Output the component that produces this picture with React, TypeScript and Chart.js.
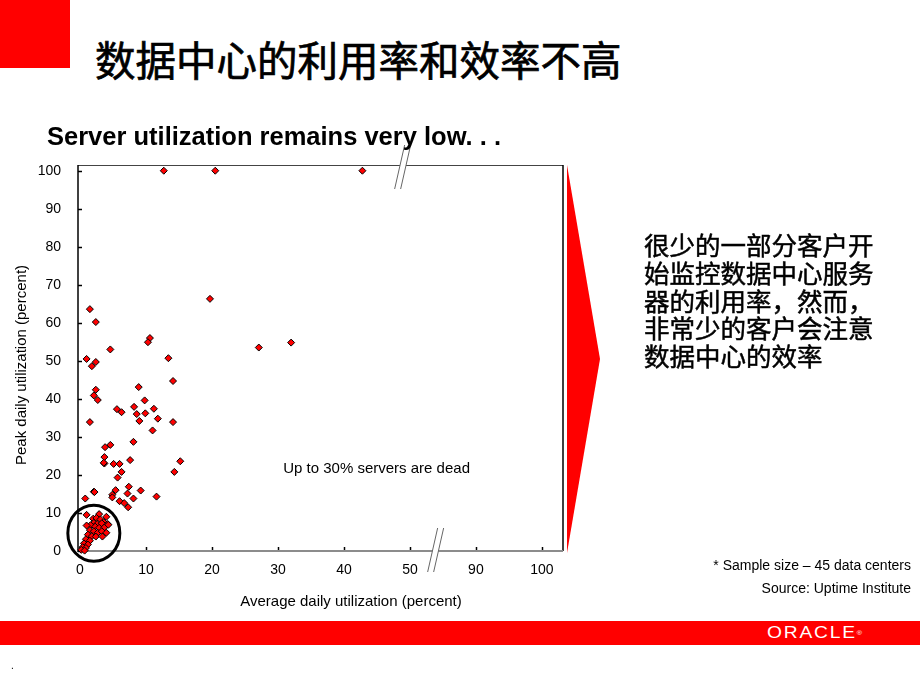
import React, { useEffect, useRef } from 'react';
import { Chart, registerables } from 'chart.js';

Chart.register(...registerables);

// Average daily utilization (percent) — x
const avgUtil = [
  12.7, 20.5, 42.8, 19.7, 1.5, 2.4, 10.6, 10.3, 4.6, 27.1, 32.0, 1.0, 2.4, 1.8, 13.4,
  14.1, 8.9, 2.4, 2.1, 2.7, 9.8, 5.6, 6.3, 8.2, 8.6, 9.9, 11.2, 11.8, 9.0, 14.1,
  1.5, 11.0, 8.1, 4.6, 3.8, 3.7, 3.7, 3.6, 5.1, 6.0, 7.6, 15.2, 14.3, 6.3, 5.7,
  2.1, 2.2, 5.4, 4.9, 4.9, 7.4, 7.2, 9.2, 11.6, 6.0, 6.7, 8.1, 7.3, 0.8, 1.0, 2.9,
  4.0, 2.0, 2.5, 3.1, 3.6, 4.2, 2.1, 2.6, 3.3, 1.6, 2.3, 2.9, 3.7, 1.5, 2.1, 2.7,
  3.3, 1.2, 1.8, 2.4, 0.9, 1.5, 0.6, 1.2, 0.4, 0.9, 0.2, 0.7, 4.3, 4.0, 3.4, 1.0,
];
// Peak daily utilization (percent) — y
const peakUtil = [
  100, 100, 100, 66.3, 63.6, 60.2, 56.0, 54.9, 53.0, 53.5, 54.8, 50.5, 49.7, 48.6, 50.7,
  44.7, 43.1, 42.4, 40.9, 39.7, 39.6, 37.3, 36.5, 37.9, 36.0, 36.2, 37.4, 34.8, 34.2, 33.9,
  33.9, 31.7, 28.7, 27.9, 27.3, 24.7, 23.0, 23.2, 22.9, 22.9, 23.9, 23.6, 20.8, 20.8, 19.3,
  15.6, 15.5, 16.0, 14.8, 14.1, 16.9, 15.1, 15.9, 14.3, 13.1, 12.6, 13.8, 11.5, 13.8, 9.5, 9.7,
  9.0, 8.5, 8.7, 8.3, 7.6, 7.1, 7.4, 7.1, 7.3, 6.8, 6.4, 6.1, 6.2, 5.5, 5.2, 4.8,
  5.2, 4.3, 3.9, 3.8, 3.1, 2.7, 2.0, 1.7, 1.0, 0.8, 0.3, 0.1, 6.9, 4.8, 3.8, 6.7,
];

// Broken x axis: positions 60 and 70 stand for 90 and 100
const xTickValues = [0, 10, 20, 30, 40, 50, 60, 70];
const xTickLabels = ['0', '10', '20', '30', '40', '50', '90', '100'];
const yTickValues = [0, 10, 20, 30, 40, 50, 60, 70, 80, 90, 100];
const yTickLabels = ['0', '10', '20', '30', '40', '50', '60', '70', '80', '90', '100'];

const titleText = '数据中心的利用率和效率不高';
const subtitleText = 'Server utilization remains very low. . .';
const noteText = 'Up to 30% servers are dead';
const sideLines = ['很少的一部分客户开', '始监控数据中心服务', '器的利用率，然而，', '非常少的客户会注意', '数据中心的效率'];
const xTitle = 'Average daily utilization (percent)';
const yTitle = 'Peak daily utilization (percent)';
const footnote1 = '* Sample size – 45 data centers';
const footnote2 = 'Source: Uptime Institute';

const SANS = '"Liberation Sans", Arial, sans-serif';
const CJK = '"Noto Sans CJK SC", "Noto Sans", sans-serif';
const RED = '#ff0000';

export default function App() {
  const ref = useRef<HTMLCanvasElement>(null);

  useEffect(() => {
    const canvas = ref.current;
    if (!canvas) return;

    const axesPlugin = {
      id: 'axesDeco',
      beforeDatasetsDraw(chart: any) {
        const { ctx, chartArea: a, scales } = chart;
        const xs = scales.x;
        const ys = scales.y;
        ctx.save();
        // top border
        ctx.strokeStyle = '#444';
        ctx.lineWidth = 1;
        ctx.beginPath();
        ctx.moveTo(a.left, a.top + 0.5);
        ctx.lineTo(a.right, a.top + 0.5);
        ctx.stroke();
        // right border
        ctx.strokeStyle = '#000';
        ctx.lineWidth = 1.5;
        ctx.beginPath();
        ctx.moveTo(a.right, a.top);
        ctx.lineTo(a.right, a.bottom);
        ctx.stroke();
        // bottom axis (gray)
        ctx.strokeStyle = '#8c8c8c';
        ctx.lineWidth = 2;
        ctx.beginPath();
        ctx.moveTo(a.left, a.bottom);
        ctx.lineTo(a.right, a.bottom);
        ctx.stroke();
        // left axis
        ctx.strokeStyle = '#000';
        ctx.lineWidth = 1.5;
        ctx.beginPath();
        ctx.moveTo(a.left, a.top);
        ctx.lineTo(a.left, a.bottom + 1);
        ctx.stroke();
        // inner tick marks
        ctx.lineWidth = 1.5;
        ctx.strokeStyle = '#000';
        yTickValues.forEach((v) => {
          const py = Math.round(ys.getPixelForValue(v)) + 0.5;
          ctx.beginPath();
          ctx.moveTo(a.left, py);
          ctx.lineTo(a.left + 4, py);
          ctx.stroke();
        });
        xTickValues.forEach((v) => {
          const px = Math.round(xs.getPixelForValue(v)) + 0.5;
          ctx.beginPath();
          ctx.moveTo(px, a.bottom - 1);
          ctx.lineTo(px, a.bottom - 4);
          ctx.stroke();
        });
        ctx.restore();
      },
      afterDraw(chart: any) {
        const { ctx, chartArea: a, scales } = chart;
        const xs = scales.x;
        const ys = scales.y;
        ctx.save();

        // axis break marks
        const drawBreak = (cx: number, cy: number) => {
          ctx.fillStyle = '#fff';
          ctx.beginPath();
          ctx.moveTo(cx - 8, cy + 22);
          ctx.lineTo(cx + 2, cy - 22);
          ctx.lineTo(cx + 8, cy - 22);
          ctx.lineTo(cx - 2, cy + 22);
          ctx.closePath();
          ctx.fill();
          ctx.strokeStyle = '#666';
          ctx.lineWidth = 1;
          ctx.beginPath();
          ctx.moveTo(cx - 8, cy + 22);
          ctx.lineTo(cx + 2, cy - 22);
          ctx.moveTo(cx - 2, cy + 22);
          ctx.lineTo(cx + 8, cy - 22);
          ctx.stroke();
        };
        drawBreak(xs.getPixelForValue(53.9), a.bottom - 1);
        drawBreak(xs.getPixelForValue(48.9), a.top + 2);

        // circle around the origin cluster
        ctx.strokeStyle = '#000';
        ctx.lineWidth = 3;
        ctx.beginPath();
        ctx.ellipse(xs.getPixelForValue(2.1), ys.getPixelForValue(4.7), 26, 28, 0, 0, Math.PI * 2);
        ctx.stroke();

        // annotation text
        ctx.fillStyle = '#000';
        ctx.font = `15px ${SANS}`;
        ctx.textAlign = 'left';
        ctx.textBaseline = 'middle';
        ctx.fillText(noteText, xs.getPixelForValue(30.8), ys.getPixelForValue(21.6));

        // red arrow
        ctx.fillStyle = RED;
        ctx.beginPath();
        ctx.moveTo(a.right + 4, a.top);
        ctx.lineTo(a.right + 37, (a.top + a.bottom) / 2 + 1);
        ctx.lineTo(a.right + 4, a.bottom + 2);
        ctx.closePath();
        ctx.fill();
        ctx.restore();
      },
    };

    const chart = new Chart(canvas, {
      type: 'scatter',
      data: {
        datasets: [
          {
            data: avgUtil.map((x, i) => ({ x, y: peakUtil[i] })),
            pointStyle: 'rectRot',
            pointRadius: 3.5,
            pointHoverRadius: 3.5,
            backgroundColor: RED,
            borderColor: '#000',
            borderWidth: 1,
            clip: false,
          } as any,
        ],
      },
      options: {
        animation: false,
        responsive: false,
        devicePixelRatio: 1,
        events: [],
        layout: { padding: { left: 0, top: 165, right: 357, bottom: 109 } },
        plugins: { legend: { display: false }, tooltip: { enabled: false } },
        scales: {
          x: {
            type: 'linear',
            min: -0.3,
            max: 73.2,
            afterBuildTicks: (s: any) => {
              s.ticks = xTickValues.map((v) => ({ value: v }));
            },
            afterFit: (s: any) => {
              s.height = 30;
            },
            grid: { display: false, drawTicks: false },
            border: { display: false },
            ticks: {
              autoSkip: false,
              maxRotation: 0,
              padding: 11,
              color: '#000',
              font: { family: SANS, size: 14 },
              callback: (_v: any, i: number) => xTickLabels[i],
            },
          },
          y: {
            type: 'linear',
            min: 0,
            max: 101.5,
            afterBuildTicks: (s: any) => {
              s.ticks = yTickValues.map((v) => ({ value: v }));
            },
            afterFit: (s: any) => {
              s.width = 78;
            },
            grid: { display: false, drawTicks: false },
            border: { display: false },
            ticks: {
              autoSkip: false,
              padding: 17,
              color: '#000',
              font: { family: SANS, size: 14 },
              callback: (_v: any, i: number) => yTickLabels[i],
            },
          },
        },
      } as any,
      plugins: [axesPlugin],
    });
    return () => chart.destroy();
  }, []);

  const abs = (s: React.CSSProperties): React.CSSProperties => ({ position: 'absolute', margin: 0, whiteSpace: 'nowrap', ...s });

  return (
    <div style={{ position: 'absolute', left: 0, top: 0, width: 920, height: 690, background: '#fff', overflow: 'hidden' }}>
      <div style={abs({ left: 0, top: 0, width: 70, height: 68, background: RED })} />
      <div style={abs({ left: 95, top: 39, fontFamily: CJK, fontSize: 40.5, lineHeight: '40px', color: '#000', WebkitTextStroke: '0.7px #000' })}>{titleText}</div>
      <canvas ref={ref} width={920} height={690} style={{ position: 'absolute', left: 0, top: 0, width: 920, height: 690 }} />
      <div style={abs({ left: 47, top: 124, fontFamily: SANS, fontSize: 25.5, fontWeight: 700, lineHeight: '25.5px', color: '#000' })}>{subtitleText}</div>
      <div style={abs({ left: 20, top: 365, transform: 'translate(-50%, -50%) rotate(-90deg)', fontFamily: SANS, fontSize: 15, lineHeight: '15px', color: '#000' })}>{yTitle}</div>
      <div style={abs({ left: 351, top: 593, transform: 'translateX(-50%)', fontFamily: SANS, fontSize: 15, lineHeight: '15px', color: '#000' })}>{xTitle}</div>
      <div style={abs({ left: 644, top: 230, fontFamily: CJK, fontSize: 25.5, lineHeight: '27.8px', color: '#000', WebkitTextStroke: '0.5px #000' })}>
        {sideLines.map((l, i) => (
          <div key={i}>{l}</div>
        ))}
      </div>
      <div style={abs({ right: 9, top: 558, fontFamily: SANS, fontSize: 14, lineHeight: '14px', color: '#000', textAlign: 'right' })}>{footnote1}</div>
      <div style={abs({ right: 9, top: 581, fontFamily: SANS, fontSize: 14, lineHeight: '14px', color: '#000', textAlign: 'right' })}>{footnote2}</div>
      <div style={abs({ left: 0, top: 621, width: 920, height: 24, background: RED })} />
      <div style={abs({ left: 767, top: 625, fontFamily: SANS, fontSize: 16, lineHeight: '16px', color: '#fff', letterSpacing: 1.5, transform: 'scaleX(1.2)', transformOrigin: 'left center' })}>
        ORACLE<span style={{ fontSize: 6, verticalAlign: 'top', letterSpacing: 0 }}>®</span>
      </div>
      <div style={abs({ left: 11, top: 660, fontFamily: SANS, fontSize: 10, color: '#000' })}>.</div>
    </div>
  );
}
